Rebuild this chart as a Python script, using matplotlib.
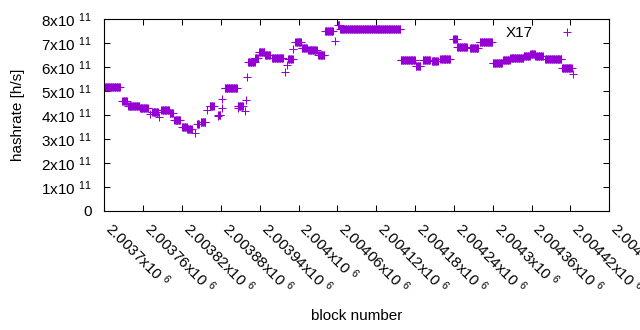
import numpy as np
import matplotlib
matplotlib.use('Agg')
import matplotlib.pyplot as plt

plt.rcParams['font.family'] = ['Liberation Sans', 'DejaVu Sans']
plt.rcParams['mathtext.default'] = 'regular'

# --- data: constant-hashrate runs (block range, hashrate in 1e11 h/s) ---
seg_start = [2003700, 2003728, 2003737, 2003755, 2003774, 2003788, 2003801, 2003808,
             2003820, 2003828, 2003843, 2003849, 2003863, 2003876, 2003886, 2003906,
             2003922, 2003933, 2003939, 2003948, 2003959, 2003984, 2003995, 2004005,
             2004015, 2004030, 2004041, 2004061, 2004064, 2004158, 2004181, 2004192,
             2004206, 2004219, 2004239, 2004245, 2004265, 2004280, 2004300, 2004316,
             2004327, 2004348, 2004358, 2004366, 2004381, 2004407]
seg_end = [2003724, 2003735, 2003754, 2003767, 2003783, 2003800, 2003806, 2003817,
           2003827, 2003835, 2003846, 2003856, 2003869, 2003879, 2003905, 2003914,
           2003932, 2003937, 2003947, 2003956, 2003976, 2003991, 2004004, 2004013,
           2004028, 2004040, 2004053, 2004063, 2004157, 2004180, 2004188, 2004203,
           2004215, 2004234, 2004244, 2004260, 2004277, 2004299, 2004314, 2004326,
           2004347, 2004357, 2004365, 2004377, 2004406, 2004422]
seg_value = [5.18, 4.56, 4.36, 4.27, 4.11, 4.22, 4.06, 3.78,
             3.50, 3.40, 3.61, 3.71, 4.39, 3.99, 5.10, 4.38,
             6.20, 6.39, 6.63, 6.49, 6.39, 6.35, 7.02, 6.81,
             6.70, 6.49, 7.50, 7.74, 7.58, 6.28, 6.03, 6.28,
             6.25, 6.35, 7.18, 6.83, 6.81, 7.06, 6.17, 6.30,
             6.39, 6.45, 6.56, 6.47, 6.31, 5.97]

# isolated points
iso_block = [2003771, 2003784, 2003840, 2003859, 2003876, 2003882, 2003882, 2003906,
             2003917, 2003919, 2003920, 2003979, 2003982, 2003991, 2004057, 2004424]
iso_value = [4.02, 3.92, 3.25, 4.20, 3.95, 4.68, 4.27, 4.30,
             4.15, 4.61, 5.58, 5.80, 6.07, 6.75, 7.10, 5.72]

x_ticks = [2003700, 2003760, 2003820, 2003880, 2003940, 2004000, 2004060,
           2004120, 2004180, 2004240, 2004300, 2004360, 2004420, 2004480]
x_tick_text = ['2.0037', '2.00376', '2.00382', '2.00388', '2.00394', '2.004', '2.00406',
               '2.00412', '2.00418', '2.00424', '2.0043', '2.00436', '2.00442', '2.00448']
y_ticks = [0, 1e11, 2e11, 3e11, 4e11, 5e11, 6e11, 7e11, 8e11]
y_tick_text = ['0', '1', '2', '3', '4', '5', '6', '7', '8']

series_label = 'X17'
color = '#9400D3'

# expand runs into per-block points
bx, by = [], []
for s, e, v in zip(seg_start, seg_end, seg_value):
    blocks = np.arange(s, e + 1)
    bx.extend(blocks)
    by.extend([v * 1e11] * len(blocks))
bx.extend(iso_block)
by.extend([v * 1e11 for v in iso_value])

fig = plt.figure(figsize=(6.4, 3.3), dpi=100)
W, H = 640, 330
left, right, top, bottom = 104.3, 609.3, 19, 210.7
ax = fig.add_axes([left / W, 1 - bottom / H, (right - left) / W, (bottom - top) / H])

ax.plot(bx, by, linestyle='none', marker='+', ms=5.4, mew=0.75, color=color,
        label=series_label)

FS = 11
ax.set_xlim(2003700, 2004480)
ax.set_ylim(0, 8e11)
ax.set_xticks(x_ticks)
ax.set_xticklabels([t + r'x10 $^{6}$' for t in x_tick_text], rotation=-45,
                   ha='left', va='baseline', rotation_mode='anchor', fontsize=FS)
ax.set_yticks(y_ticks)
ax.set_yticklabels([t if t == '0' else t + r'x10 $^{11}$' for t in y_tick_text], fontsize=FS)

ax.tick_params(direction='in', length=4.3, width=0.75, top=True, right=True,
               labeltop=False, labelright=False, colors='black')
ax.tick_params(axis='y', pad=9)
ax.tick_params(axis='x', pad=13.9)
for sp in ax.spines.values():
    sp.set_linewidth(0.8)

ax.set_ylabel('hashrate [h/s]', fontsize=FS)
ax.yaxis.set_label_coords(-0.157, 0.5)
ax.set_xlabel('block number', fontsize=FS)
ax.xaxis.set_label_coords(0.5, -0.513)

ax.legend(loc='upper right', bbox_to_anchor=(0.944, 0.962), markerfirst=False,
          frameon=False, borderpad=0, borderaxespad=0, handlelength=1.8,
          handletextpad=1.35, fontsize=FS)

fig.savefig('out.png', dpi=100)
